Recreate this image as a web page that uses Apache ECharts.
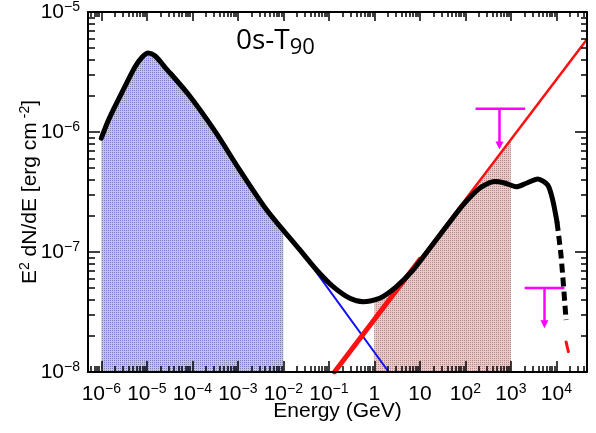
<!DOCTYPE html>
<html>
<head>
<meta charset="utf-8">
<script src="https://cdn.jsdelivr.net/npm/echarts@6/dist/echarts.min.js"></script>
<style>
html, body { margin: 0; padding: 0; background: #fff; }
#chart { width: 596px; height: 433px; }
</style>
</head>
<body>
<div id="chart"></div>
<script>
// axis ranges and tick values (GeV / erg cm^-2)
var xMin = 5.1e-7, xMax = 4.7e4;
var yMin = 1e-8, yMax = 1e-5;
var xMajor = [1e-6, 1e-5, 1e-4, 1e-3, 1e-2, 1e-1, 1, 10, 1e2, 1e3, 1e4];
var yMajor = [1e-8, 1e-7, 1e-6, 1e-5];

// total spectrum (black curve)
var totalSolid = [
	[1.0e-6, 8.9e-7], [1.35e-6, 1.19e-6], [1.83e-6, 1.53e-6], [3.03e-6, 2.24e-6],
	[5.48e-6, 3.48e-6], [7.93e-6, 4.22e-6], [1.07e-5, 4.55e-6], [1.53e-5, 4.30e-6],
	[2.49e-5, 3.48e-6], [8.09e-5, 2.07e-6], [3.11e-4, 1.02e-6], [1.10e-3, 4.82e-7],
	[4.31e-3, 2.24e-7], [2.31e-2, 1.04e-7], [5.37e-2, 7.08e-8], [0.124, 5.14e-8],
	[0.289, 4.11e-8], [0.565, 3.85e-8], [1.31, 4.11e-8], [3.05, 5.14e-8],
	[7.06, 7.08e-8], [16.4, 1.07e-7], [38.1, 1.63e-7], [88.1, 2.46e-7],
	[205, 3.40e-7], [437, 3.86e-7], [724, 3.76e-7], [1306, 3.50e-7],
	[2168, 3.74e-7], [3890, 4.06e-7], [6440, 3.62e-7], [8300, 2.71e-7],
	[10300, 1.78e-7]
];
var totalDashed = [[10300, 1.78e-7], [12700, 9.14e-8], [16300, 2.71e-8]];
var redTail = [[16300, 1.78e-8], [18300, 1.48e-8]];

// components
var synchroLine = [[0.018, 1.19e-7], [2.07, 1e-8]];      // blue
var powerLaw = [[0.133, 1e-8], [47000, 5.92e-6]];          // red
var powerLawLow = [[0.133, 1e-8], [10, 8.66e-8]];          // red, thick part

// shaded energy bands
var blueBand = totalSolid.filter(function(p) { return p[0] <= 1e-2; }).concat([[1e-2, 1.53e-7]]);
var redBandTotal = [[1, 4.07e-8]].concat(totalSolid.filter(function(p) { return p[0] > 1 && p[0] < 1000; }), [[1000, 3.63e-7]]);
var redBandLine = [[1, 2.74e-8], [1000, 8.66e-7]];

// upper limits
var ulHighBar = [[167, 1.56e-6], [2060, 1.56e-6]];
var ulHighArrow = [[562, 1.56e-6], [562, 7.7e-7]];
var ulLowBar = [[2000, 5.0e-8], [15000, 5.0e-8]];
var ulLowArrow = [[5460, 5.0e-8], [5460, 2.5e-8]];

// minor ticks 2..9 per decade
function minorTicks(lo, hi) {
	var out = [];
	for (var n = -9; n <= 5; n++) {
		for (var k = 2; k <= 9; k++) {
			var v = k * Math.pow(10, n);
			if (v > lo && v < hi) out.push(v);
		}
	}
	return out;
}
var xMinor = minorTicks(xMin, xMax);
var yMinor = minorTicks(yMin, yMax);

// dotted fill pattern like ROOT hatch
function pattern(dark, light) {
	var c = document.createElement('canvas');
	c.width = 2; c.height = 2;
	var ctx = c.getContext('2d');
	ctx.fillStyle = light;
	ctx.fillRect(0, 0, 2, 2);
	ctx.fillStyle = dark;
	ctx.fillRect(0, 0, 1, 1);
	return { image: c, repetition: 'repeat' };
}
var bluePattern = pattern('#7c7cbc', '#c2c2e4');
var redPattern = pattern('#b88484', '#e9caca');

var font = 'Liberation Sans';
var rich = {
	b: { fontSize: 21, lineHeight: 24, fontFamily: font, color: '#000' },
	s: { fontSize: 14, lineHeight: 12, verticalAlign: 'top', fontFamily: font, color: '#000' }
};
function powLabel(v) {
	var n = Math.round(Math.log10(v));
	if (n === 0) return '{b|1}';
	if (n === 1) return '{b|10}';
	return '{b|10}{s|' + (n < 0 ? '\u2212' + (-n) : n) + '}';
}

var tickStyle = { color: '#000', width: 1.5 };
function xAxisCfg(pos, ticks, len, main) {
	return {
		type: 'log', min: xMin, max: xMax, position: pos, z: 10,
		axisLine: { show: main, onZero: false, lineStyle: { color: '#000', width: 2 } },
		axisTick: { show: true, inside: true, length: len, customValues: ticks, lineStyle: tickStyle },
		axisLabel: { show: false },
		splitLine: { show: false }
	};
}
function yAxisCfg(pos, ticks, len, main) {
	return {
		type: 'log', min: yMin, max: yMax, position: pos, z: 10,
		axisLine: { show: main, onZero: false, lineStyle: { color: '#000', width: 2 } },
		axisTick: { show: true, inside: true, length: len, customValues: ticks, lineStyle: tickStyle },
		axisLabel: { show: false },
		splitLine: { show: false }
	};
}

var xBottom = xAxisCfg('bottom', xMajor, 11, true);
xBottom.axisLabel = { show: true, customValues: xMajor, margin: 10, formatter: powLabel, rich: rich };
xBottom.name = 'Energy (GeV)';
xBottom.nameLocation = 'middle';
xBottom.nameGap = 29;
xBottom.nameMoveOverlap = false;
xBottom.nameTextStyle = { fontSize: 21, fontFamily: font, color: '#000' };

var yLeft = yAxisCfg('left', yMajor, 12, true);
yLeft.axisLabel = { show: true, customValues: yMajor, margin: 8, formatter: powLabel, rich: rich };
yLeft.name = '{b|E}{s|2}{b| dN/dE [erg cm}{s| -2}{b|]}';
yLeft.nameLocation = 'middle';
yLeft.nameGap = 46;
yLeft.nameMoveOverlap = false;
yLeft.nameTextStyle = { fontSize: 21, fontFamily: font, color: '#000', rich: rich };

var smoothness = 0.25;
function lineSeries(data, color, width, extra) {
	var s = {
		type: 'line', data: data, symbol: 'none', smooth: false, silent: true,
		lineStyle: { color: color, width: width, cap: 'round', join: 'round' },
		z: 5
	};
	for (var k in extra) s[k] = extra[k];
	return s;
}
function bandSeries(data, fill, smooth) {
	return {
		type: 'line', data: data, symbol: 'none', silent: true, smooth: smooth,
		lineStyle: { width: 0 },
		areaStyle: { color: fill, opacity: 1, origin: 'start' },
		z: 1
	};
}

var chart = echarts.init(document.getElementById('chart'), null, { renderer: 'canvas' });
chart.setOption({
	animation: false,
	backgroundColor: '#fff',
	grid: { left: 88, right: 9, top: 12, bottom: 61, containLabel: false, outerBoundsMode: 'none' },
	xAxis: [xBottom, xAxisCfg('bottom', xMinor, 6, false), xAxisCfg('top', xMajor, 9, true), xAxisCfg('top', xMinor, 5, false)],
	yAxis: [yLeft, yAxisCfg('left', yMinor, 7, false), yAxisCfg('right', yMajor, 12, true), yAxisCfg('right', yMinor, 6, false)],
	graphic: [{
		type: 'text', left: 236, top: 27,
		style: {
			text: '{a|0s-T}{b|90}',
			rich: {
				a: { fontSize: 28, lineHeight: 36, fontFamily: 'Open Sans', fill: '#000' },
				b: { fontSize: 22, lineHeight: 18, verticalAlign: 'bottom', fontFamily: 'Open Sans', fill: '#000' }
			}
		}
	}],
	series: [
		bandSeries(blueBand, bluePattern, smoothness),
		bandSeries(redBandTotal, redPattern, smoothness),
		bandSeries(redBandLine, redPattern, false),
		lineSeries(synchroLine, '#1010ff', 2),
		lineSeries(powerLaw, '#ff1010', 2.5),
		lineSeries(powerLawLow, '#ff1010', 5),
		lineSeries(totalSolid, '#000', 5, { z: 6, smooth: smoothness }),
		lineSeries(totalDashed, '#000', 5, { z: 6, smooth: smoothness, lineStyle: { color: '#000', width: 5, type: [9, 5], cap: 'butt' } }),
		lineSeries(redTail, '#ff1010', 3),
		lineSeries(ulHighBar, '#ff00ff', 2.5, { lineStyle: { color: '#ff00ff', width: 2.5, cap: 'butt' } }),
		lineSeries(ulLowBar, '#ff00ff', 2.5, { lineStyle: { color: '#ff00ff', width: 2.5, cap: 'butt' } }),
		{
			type: 'lines', coordinateSystem: 'cartesian2d', silent: true, z: 7,
			symbol: ['none', 'triangle'], symbolSize: [9, 8],
			lineStyle: { color: '#ff00ff', width: 2.5, opacity: 1 },
			data: [{ coords: ulHighArrow }, { coords: ulLowArrow }]
		}
	]
});
</script>
</body>
</html>
